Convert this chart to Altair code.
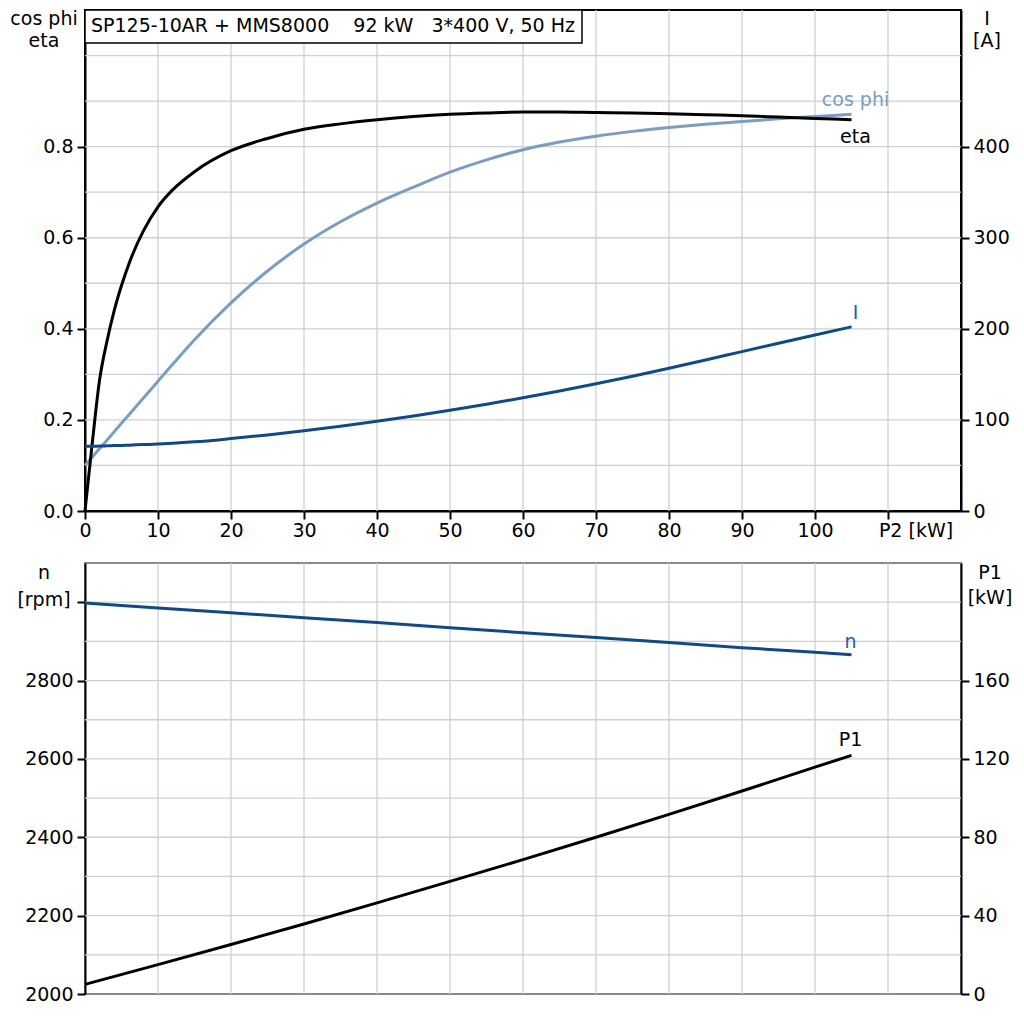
import altair as alt
import pandas as pd

# ---------------- data ----------------
p2 = [0, 1, 2, 3, 4, 5, 6, 8, 10, 12, 15, 20, 25, 30, 35, 40, 45, 50, 55, 60,
      65, 70, 75, 80, 85, 90, 95, 100, 105]
eta = [0.000, 0.150, 0.288, 0.372, 0.440, 0.495, 0.542, 0.615, 0.668, 0.705,
       0.745, 0.791, 0.818, 0.838, 0.850, 0.859, 0.866, 0.871, 0.874, 0.876,
       0.876, 0.875, 0.874, 0.872, 0.870, 0.868, 0.865, 0.862, 0.859]
cos_phi = [0.100, 0.1185, 0.137, 0.1555, 0.174, 0.1925, 0.211, 0.248, 0.285, 0.322,
           0.376, 0.457, 0.527, 0.586, 0.635, 0.676, 0.711, 0.744, 0.771, 0.793,
           0.810, 0.823, 0.8335, 0.842, 0.849, 0.855, 0.861, 0.866, 0.871]
current = [71.0, 71.1, 71.3, 71.5, 71.8, 72.0, 72.3, 72.9, 73.5, 74.3,
           75.9, 79.5, 83.5, 88.0, 93.0, 98.5, 104.3, 110.5, 117.2, 124.3,
           131.8, 139.7, 148.0, 156.7, 165.7, 175.0, 184.2, 193.3, 202.2]

p2_b = [0, 10, 20, 30, 40, 50, 60, 70, 80, 90, 100, 105]
speed = [2998, 2985, 2973, 2960, 2948, 2935, 2922, 2910, 2897, 2884, 2872, 2866]
p1 = [4.9, 15.0, 25.3, 35.7, 46.5, 57.5, 68.6, 80.0, 91.7, 103.6, 115.8, 121.8]

x_ticks = [0, 10, 20, 30, 40, 50, 60, 70, 80, 90, 100, 110]
x_grid = [10, 20, 30, 40, 50, 60, 70, 80, 90, 100, 110]
top_grid = [0.1, 0.2, 0.3, 0.4, 0.5, 0.6, 0.7, 0.8, 0.9, 1.0]
bottom_grid = [2100, 2200, 2300, 2400, 2500, 2600, 2700, 2800, 2900, 3000]
eta_ticks = [0, 0.2, 0.4, 0.6, 0.8]
i_ticks = [0, 100, 200, 300, 400]
n_ticks = [2000, 2200, 2400, 2600, 2800, 3000]
p1_ticks = [0, 40, 80, 120, 160]

title_text = "SP125-10AR + MMS8000\u00a0\u00a0\u00a0\u00a092 kW\u00a0\u00a0\u00a03*400 V, 50 Hz"

# ---------------- styling ----------------
W, HT, HB = 876, 501, 431
FONT = "DejaVu Sans"
FS = 19
GRID = "#cdd0d2"
COS = "#7b9dbf"
BLUE = "#0f4a85"
BLUE_TXT = "#1d5fa6"

xs = alt.Scale(domain=[0, 120], nice=False, zero=False)
ys_top = alt.Scale(domain=[0, 1.1], nice=False, zero=False)
ys_i = alt.Scale(domain=[0, 550], nice=False, zero=False)
ys_n = alt.Scale(domain=[2000, 3100], nice=False, zero=False)
ys_p1 = alt.Scale(domain=[0, 220], nice=False, zero=False)

common_ax = dict(title=None, grid=False, domainColor="black", domainWidth=2,
                 tickColor="black", tickWidth=2, tickSize=8, labelFont=FONT,
                 labelFontSize=FS, labelColor="black", labelOverlap=False)

x_axis_top = alt.Axis(values=x_ticks, labelExpr="datum.value == 110 ? '' : datum.label",
                      labelPadding=2, labelFlush=False, format="d", **common_ax)
ax_eta = alt.Axis(values=eta_ticks, orient="left", format=".1f", labelPadding=4, **common_ax)
ax_i = alt.Axis(values=i_ticks, orient="right", format="d", labelPadding=4, **common_ax)
ax_n = alt.Axis(values=n_ticks, orient="left", format="d", labelPadding=4,
                labelExpr="datum.value == 3000 ? '' : datum.label", **common_ax)
ax_p1 = alt.Axis(values=p1_ticks, orient="right", format="d", labelPadding=4, **common_ax)

df_top = pd.DataFrame({"p2": p2, "eta": eta, "cos_phi": cos_phi, "current": current})
df_bot = pd.DataFrame({"p2": p2_b, "n": speed, "p1": p1})
one = pd.DataFrame({"k": [0]})


def txt(label, x, y, color="black", align="center", size=FS):
    return alt.Chart(one).mark_text(font=FONT, fontSize=size, color=color, align=align,
                                    baseline="middle").encode(
        x=alt.value(x), y=alt.value(y), text=alt.value(label))


def left_edge():
    # invisible white tick that fixes the same left extent for both panels
    return alt.Chart(one).mark_rule(color="white", strokeWidth=1).encode(
        x=alt.value(-75.5), x2=alt.value(-74.5), y=alt.value(20))


# ---------------- top panel ----------------
xg_top = alt.Chart(pd.DataFrame({"g": x_grid})).mark_rule(color=GRID, strokeWidth=1.3).encode(
    x=alt.X("g:Q", scale=xs, axis=x_axis_top))
yg_top = alt.Chart(pd.DataFrame({"g": top_grid})).mark_rule(color=GRID, strokeWidth=1.3).encode(
    y=alt.Y("g:Q", scale=ys_top, axis=None))

base_top = alt.Chart(df_top)
eta_line = base_top.mark_line(color="black", strokeWidth=3, interpolate="monotone").encode(
    x=alt.X("p2:Q", scale=xs, axis=x_axis_top), y=alt.Y("eta:Q", scale=ys_top, axis=ax_eta))
cos_line = base_top.mark_line(color=COS, strokeWidth=3, interpolate="monotone").encode(
    x=alt.X("p2:Q", scale=xs, axis=x_axis_top), y=alt.Y("cos_phi:Q", scale=ys_top, axis=None))
i_line = base_top.mark_line(color=BLUE, strokeWidth=3, interpolate="monotone").encode(
    x=alt.X("p2:Q", scale=xs, axis=x_axis_top), y=alt.Y("current:Q", scale=ys_i, axis=ax_i))

last_top = alt.Chart(df_top.tail(1))
cos_lab = last_top.mark_text(font=FONT, fontSize=FS, color=COS, dx=4, dy=-14).encode(
    x=alt.X("p2:Q", scale=xs, axis=x_axis_top), y=alt.Y("cos_phi:Q", scale=ys_top, axis=None),
    text=alt.value("cos phi"))
eta_lab = last_top.mark_text(font=FONT, fontSize=FS, color="black", dx=4, dy=17).encode(
    x=alt.X("p2:Q", scale=xs, axis=x_axis_top), y=alt.Y("eta:Q", scale=ys_top, axis=None),
    text=alt.value("eta"))
i_lab = last_top.mark_text(font=FONT, fontSize=FS, color=BLUE_TXT, dx=4, dy=-14).encode(
    x=alt.X("p2:Q", scale=xs, axis=x_axis_top), y=alt.Y("current:Q", scale=ys_i, axis=None),
    text=alt.value("I"))

p2_lab = alt.Chart(one).mark_text(font=FONT, fontSize=FS, color="black", dx=28,
                                   baseline="middle").encode(
    x=alt.X(datum=110, scale=xs, axis=x_axis_top), y=alt.value(HT + 20), text=alt.value("P2 [kW]"))

title_box = alt.Chart(one).mark_rect(fill="white", stroke="black", strokeWidth=1.5).encode(
    x=alt.value(0), x2=alt.value(497), y=alt.value(0), y2=alt.value(33))
title_lab = txt(title_text, 6, 16, align="left")

top = alt.layer(
    left_edge(), xg_top, yg_top, cos_line, eta_line, i_line, cos_lab, eta_lab, i_lab, p2_lab,
    title_box, title_lab,
    txt("cos phi", -41, 9), txt("eta", -41, 31),
    txt("I", W + 26, 9), txt("[A]", W + 26, 31),
).resolve_scale(y="independent").properties(
    width=W, height=HT, view=alt.ViewBackground(stroke="black", strokeWidth=2))

# ---------------- bottom panel ----------------
xg_bot = alt.Chart(pd.DataFrame({"g": x_grid})).mark_rule(color=GRID, strokeWidth=1.3).encode(
    x=alt.X("g:Q", scale=xs, axis=None))
yg_bot = alt.Chart(pd.DataFrame({"g": bottom_grid})).mark_rule(color=GRID, strokeWidth=1.3).encode(
    y=alt.Y("g:Q", scale=ys_n, axis=None))
base_bot = alt.Chart(df_bot)
n_line = base_bot.mark_line(color=BLUE, strokeWidth=3).encode(
    x=alt.X("p2:Q", scale=xs, axis=None), y=alt.Y("n:Q", scale=ys_n, axis=ax_n))
p1_line = base_bot.mark_line(color="black", strokeWidth=3).encode(
    x=alt.X("p2:Q", scale=xs, axis=None), y=alt.Y("p1:Q", scale=ys_p1, axis=ax_p1))
last_bot = alt.Chart(df_bot.tail(1))
n_lab = last_bot.mark_text(font=FONT, fontSize=FS, color=BLUE_TXT, dx=-1, dy=-13).encode(
    x=alt.X("p2:Q", scale=xs, axis=None), y=alt.Y("n:Q", scale=ys_n, axis=None),
    text=alt.value("n"))
p1_lab = last_bot.mark_text(font=FONT, fontSize=FS, color="black", dx=-1, dy=-15).encode(
    x=alt.X("p2:Q", scale=xs, axis=None), y=alt.Y("p1:Q", scale=ys_p1, axis=None),
    text=alt.value("P1"))

bottom = alt.layer(
    left_edge(), xg_bot, yg_bot, n_line, p1_line, n_lab, p1_lab,
    txt("n", -41, 10), txt("[rpm]", -41, 37),
    txt("P1", W + 29, 10), txt("[kW]", W + 29, 35),
).resolve_scale(y="independent").properties(
    width=W, height=HB, view=alt.ViewBackground(stroke="#8a8a8a", strokeWidth=2))

chart = alt.vconcat(top, bottom, spacing=19).properties(
    padding={"left": 0, "top": 0, "right": 0, "bottom": 0}, background="white")

chart.save("out.html", embed_options={"renderer": "svg", "actions": False})
